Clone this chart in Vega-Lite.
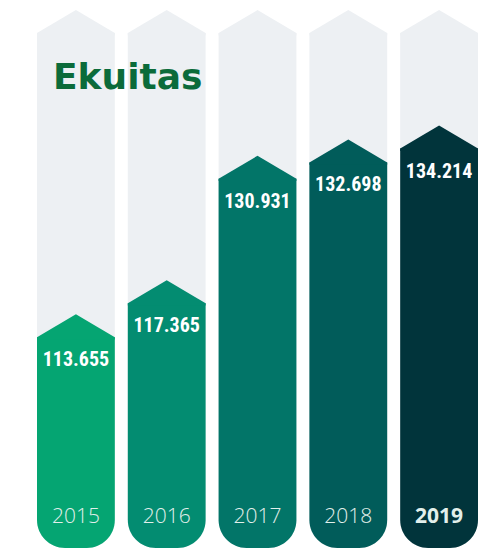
{
  "$schema": "https://vega.github.io/schema/vega-lite/v6.json",
  "width": 441,
  "height": 548,
  "autosize": {"type": "none"},
  "padding": {"left": 37, "top": 0, "right": 3, "bottom": 0},
  "background": "#ffffff",
  "config": {"view": {"stroke": null}},
  "title": {
    "text": "Ekuitas",
    "anchor": "start",
    "frame": "group",
    "orient": "top",
    "offset": 0,
    "dx": 16,
    "dy": 125,
    "baseline": "alphabetic",
    "font": "DejaVu Sans",
    "fontSize": 36,
    "fontWeight": "bold",
    "color": "#0b6b3a"
  },
  "data": {
    "values": [
      {"year": "2015", "value": 113.655, "label": "113.655"},
      {"year": "2016", "value": 117.365, "label": "117.365"},
      {"year": "2017", "value": 130.931, "label": "130.931"},
      {"year": "2018", "value": 132.698, "label": "132.698"},
      {"year": "2019", "value": 134.214, "label": "134.214"}
    ]
  },
  "encoding": {
    "x": {
      "field": "year",
      "type": "nominal",
      "sort": null,
      "scale": {"paddingInner": 0.143, "paddingOuter": 0},
      "axis": {
        "orient": "bottom",
        "title": null,
        "domain": false,
        "ticks": false,
        "labelAngle": 0,
        "labelPadding": -32,
        "labelBaseline": "middle",
        "labelFont": "Open Sans",
        "labelFontSize": 21,
        "labelColor": "#e2efeb",
        "labelFontWeight": {"condition": {"test": "datum.value == '2019'", "value": "bold"}, "value": 300},
        "zindex": 2
      }
    }
  },
  "layer": [
    {
      "mark": {"type": "bar", "color": "#edf0f3", "cornerRadiusBottomLeft": 28, "cornerRadiusBottomRight": 28},
      "encoding": {
        "y": {"datum": 146.8, "type": "quantitative", "scale": {"domain": [90.7, 150.4], "zero": false, "nice": false}, "axis": null},
        "y2": {"datum": 90.7}
      }
    },
    {
      "mark": {"type": "point", "shape": "M-1,0.06L-1,0L0,-0.59L1,0L1,0.06Z", "filled": true, "color": "#edf0f3", "opacity": 1, "strokeWidth": 0, "size": 6053},
      "encoding": {
        "y": {"datum": 146.8, "type": "quantitative"}
      }
    },
    {
      "mark": {"type": "bar", "cornerRadiusBottomLeft": 28, "cornerRadiusBottomRight": 28},
      "encoding": {
        "y": {"field": "value", "type": "quantitative"},
        "y2": {"datum": 90.7},
        "color": {"field": "year", "type": "nominal", "legend": null, "scale": {"range": ["#05a572", "#038c71", "#027568", "#015c5a", "#01343b"]}}
      }
    },
    {
      "mark": {"type": "point", "shape": "M-1,0.06L-1,0L0,-0.59L1,0L1,0.06Z", "filled": true, "opacity": 1, "strokeWidth": 0, "size": 6053},
      "encoding": {
        "y": {"field": "value", "type": "quantitative"},
        "color": {"field": "year", "type": "nominal", "legend": null}
      }
    },
    {
      "mark": {"type": "text", "dy": 23, "baseline": "middle", "align": "center", "font": "'Roboto Condensed', 'Liberation Sans', sans-serif", "fontWeight": "bold", "fontSize": 20, "color": "#ffffff"},
      "encoding": {
        "y": {"field": "value", "type": "quantitative"},
        "text": {"field": "label", "type": "nominal"}
      }
    }
  ]
}
